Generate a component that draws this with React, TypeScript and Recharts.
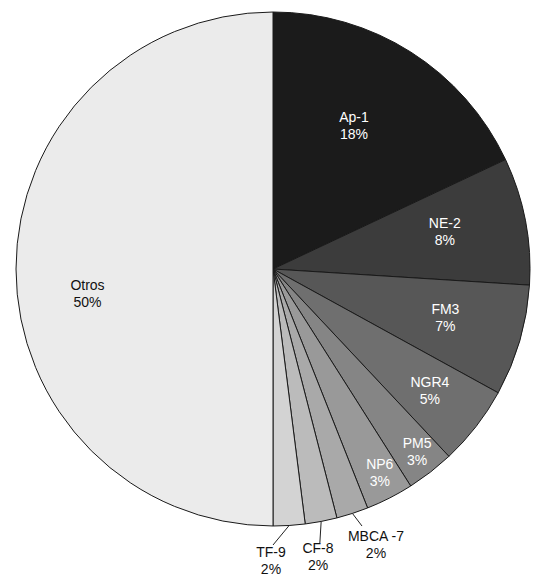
import React from "react";
import { PieChart, Pie, Cell } from "recharts";

// ---- data ----
const categories = ["Ap-1", "NE-2", "FM3", "NGR4", "PM5", "NP6", "MBCA -7", "CF-8", "TF-9", "Otros"];
const shares = [18, 8, 7, 5, 3, 3, 2, 2, 2, 50];

// ---- styling / layout (not data) ----
const fills = ["#1b1b1b", "#3c3c3c", "#575757", "#6f6f6f", "#858585", "#999999", "#a9a9a9", "#bbbbbb", "#d3d3d3", "#ebebeb"];
const textColors = ["#fff", "#fff", "#fff", "#fff", "#fff", "#fff", "#111", "#111", "#111", "#111"];
// label centre as (angle clockwise from 12 o'clock, radius in px); leader line end for outside labels
const labelPolar: [number, number][] = [
  [29.4, 165], [77.5, 176], [105.6, 179], [127.6, 198], [141.6, 232], [152.2, 229],
  [159.5, 294], [171.1, 291], [180.4, 291], [262.7, 187],
];
const leaderEnd: ([number, number] | null)[] = [
  null, null, null, null, null, null, [160.9, 272], [170.3, 278], [180, 276], null,
];

const data = categories.map((name, i) => ({ name, value: shares[i] }));

const RAD = Math.PI / 180;
const polar = (cx: number, cy: number, theta: number, r: number) => ({
  x: cx + r * Math.sin(theta * RAD),
  y: cy - r * Math.cos(theta * RAD),
});

const renderLabel = (props: any) => {
  const { cx, cy, midAngle, outerRadius, index } = props;
  const [th, r] = labelPolar[index];
  const p = polar(cx, cy, th, r);
  const le = leaderEnd[index];
  let line = null;
  if (le) {
    const startTheta = 90 - midAngle;
    const s = polar(cx, cy, startTheta, outerRadius);
    const e = polar(cx, cy, le[0], le[1]);
    line = <line x1={s.x} y1={s.y} x2={e.x} y2={e.y} stroke="#222" strokeWidth={1} />;
  }
  return (
    <g key={`lbl-${index}`}>
      {line}
      <text
        x={p.x}
        y={p.y}
        textAnchor="middle"
        fill={textColors[index]}
        fontFamily="'Liberation Sans', Arial, sans-serif"
        fontSize={14}
      >
        <tspan x={p.x} dy={-3}>{categories[index]}</tspan>
        <tspan x={p.x} dy={17}>{`${shares[index]}%`}</tspan>
      </text>
    </g>
  );
};

export default function App() {
  return (
    <div style={{ width: 536, height: 576, background: "#fff" }}>
      <PieChart width={536} height={576} margin={{ top: 0, right: 0, bottom: 0, left: 0 }}>
        <Pie
          data={data}
          dataKey="value"
          nameKey="name"
          cx={265}
          cy={261}
          outerRadius={257}
          startAngle={90}
          endAngle={-270}
          stroke="#1a1a1a"
          strokeWidth={1}
          label={renderLabel}
          labelLine={false}
          isAnimationActive={false}
        >
          {data.map((d, i) => (
            <Cell key={d.name} fill={fills[i]} />
          ))}
        </Pie>
      </PieChart>
    </div>
  );
}
